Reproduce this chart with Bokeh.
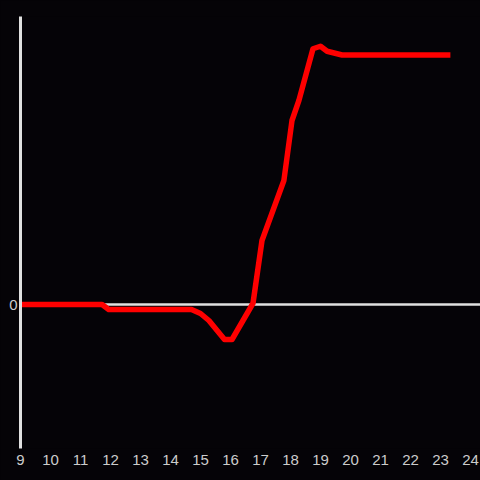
from bokeh.plotting import figure
from bokeh.models import Range1d, FixedTicker
from bokeh.embed import file_html
from bokeh.resources import INLINE

# data (x in hours, y in arbitrary units)
hours = [9.0, 11.72, 11.94, 14.7, 15.0, 15.28, 15.8, 16.05, 16.75, 17.05,
         17.78, 18.05, 18.28, 18.75, 19.0, 19.22, 19.72, 23.33]
values = [0, 0, -2, -2, -3.6, -6.4, -14, -14, 0.5, 25.6,
          49.6, 73.6, 81.6, 102.3, 103.3, 101.3, 99.8, 99.8]
x_ticks = list(range(9, 25))
y_ticks = [0]

BG = "#050307"
AX = "#e0e0e0"
LBL = "#cccccc"

p = figure(width=480, height=480, output_backend="svg", toolbar_location=None,
           x_range=Range1d(9, 9 + 460 / 30), y_range=Range1d(-57.6, 115.2),
           min_border_left=20, min_border_right=0, min_border_top=16, min_border_bottom=32)
p.background_fill_color = BG
p.border_fill_color = BG
p.outline_line_color = None

p.line(hours, values, line_color="#ff0000", line_width=5.5, line_join="round")

p.xgrid.visible = False
p.ygrid.ticker = FixedTicker(ticks=y_ticks)
p.ygrid.grid_line_color = AX
p.ygrid.grid_line_width = 2.5

p.xaxis.ticker = FixedTicker(ticks=x_ticks)
p.xaxis.axis_line_color = None
p.xaxis.major_tick_line_color = None
p.xaxis.minor_tick_line_color = None
p.xaxis.major_tick_out = 0
p.xaxis.major_label_standoff = 6

p.yaxis.ticker = FixedTicker(ticks=y_ticks)
p.yaxis.axis_line_color = AX
p.yaxis.axis_line_width = 3
p.yaxis.major_tick_line_color = None
p.yaxis.minor_tick_line_color = None
p.yaxis.major_tick_out = 0
p.yaxis.major_label_standoff = 3

for ax in (p.xaxis, p.yaxis):
    ax.major_label_text_color = LBL
    ax.major_label_text_font = "Liberation Sans"
    ax.major_label_text_font_size = "15px"

html = file_html(p, INLINE)
html = html.replace("<head>", "<head><style>body{background:%s}</style>" % BG, 1)
open("out.html", "w").write(html)
